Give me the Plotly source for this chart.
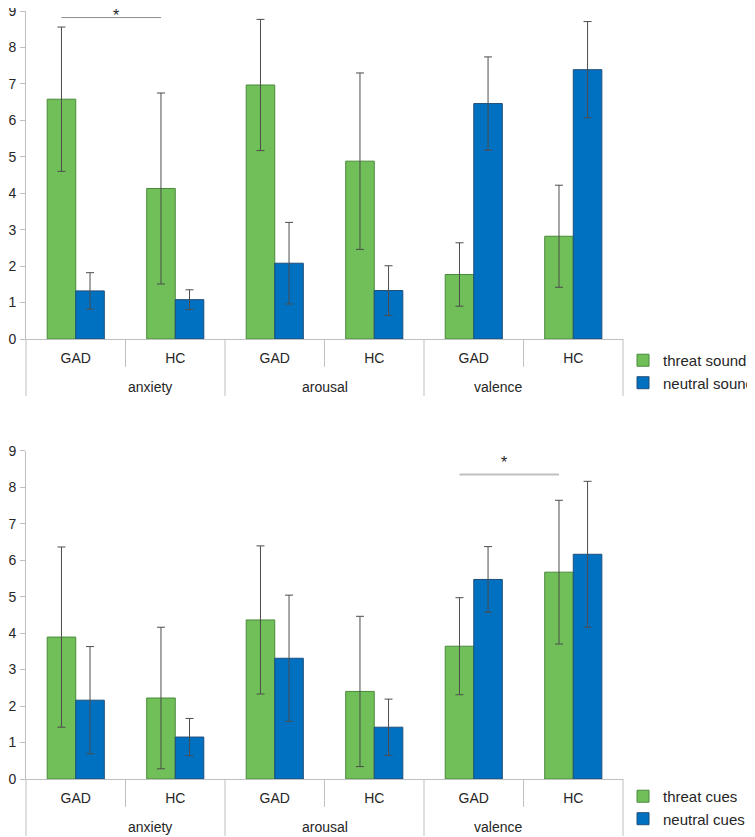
''' Ratings of threat vs neutral stimuli, GAD vs HC '''

import plotly.graph_objects as go
from plotly.subplots import make_subplots

## Data
measure_names = ["anxiety", "arousal", "valence"]
measures = ["anxiety", "anxiety", "arousal", "arousal", "valence", "valence"]
groups = ["GAD", "HC", "GAD", "HC", "GAD", "HC"]

threat_sound = [6.58, 4.13, 6.97, 4.88, 1.77, 2.82]
threat_sound_sd = [1.98, 2.62, 1.80, 2.42, 0.87, 1.40]
neutral_sound = [1.32, 1.08, 2.08, 1.33, 6.46, 7.39]
neutral_sound_sd = [0.50, 0.27, 1.12, 0.68, 1.28, 1.32]

threat_cues = [3.89, 2.22, 4.36, 2.40, 3.64, 5.67]
threat_cues_sd = [2.47, 1.94, 2.03, 2.06, 1.33, 1.97]
neutral_cues = [2.16, 1.15, 3.31, 1.42, 5.47, 6.16]
neutral_cues_sd = [1.47, 0.51, 1.73, 0.77, 0.90, 2.00]

# significance brackets: (panel, first bar index, second bar index, line height, star height)
brackets = [(1, 0, 1, 8.82, 8.6), (2, 4, 5, 8.35, 8.38)]

GREEN = "#70BF59"
GREEN_EDGE = "#4A8A3A"
BLUE = "#0070C0"
BLUE_EDGE = "#1F4E79"
GRID = "#BFBFBF"
TEXT = "#262626"
FONT = "Liberation Sans, Arial, Helvetica, sans-serif"
BARGAP = 0.426

fig = make_subplots(rows=2, cols=1, vertical_spacing=0.1454)

# one unique category per bar pair, labelled with the group only
cats = ["%s %s" % (m, g) for m, g in zip(measures, groups)]

def add_pair(row, green_vals, green_sd, blue_vals, blue_sd, names, legend):
    for vals, sd, color, edge, name in [
        (green_vals, green_sd, GREEN, GREEN_EDGE, names[0]),
        (blue_vals, blue_sd, BLUE, BLUE_EDGE, names[1]),
    ]:
        fig.add_trace(go.Bar(
            x=cats, y=vals, name=name, legend=legend,
            marker=dict(color=color, line=dict(color=edge, width=1)),
            error_y=dict(type="data", array=sd, color="#4D4D4D", thickness=1, width=4),
        ), row=row, col=1)

add_pair(1, threat_sound, threat_sound_sd, neutral_sound, neutral_sound_sd,
         ["threat sound", "neutral sound"], "legend")
add_pair(2, threat_cues, threat_cues_sd, neutral_cues, neutral_cues_sd,
         ["threat cues", "neutral cues"], "legend2")

# Axes
fig.update_yaxes(
    range=[0, 9], dtick=1, showgrid=False, zeroline=False, automargin=False,
    showline=True, linecolor=GRID, linewidth=1,
    ticks="outside", ticklen=5, tickcolor=GRID,
    tickfont=dict(size=14, color=TEXT), ticklabelstandoff=1,
    ticklabeloverflow="allow",
)
fig.update_xaxes(
    type="category", tickmode="array", tickvals=cats, ticktext=groups,
    showgrid=False, zeroline=False, automargin=False,
    showline=True, linecolor=GRID, linewidth=1, ticks="",
    tickfont=dict(size=14, color=TEXT), ticklabelstandoff=6,
)
fig.update_layout(yaxis=dict(domain=[0.5729, 1.0]), yaxis2=dict(domain=[0.0, 0.4275]))

shapes = []
annotations = []
for axis in ["", "2"]:
    # short separators between GAD and HC
    for i in [1, 3, 5]:
        shapes.append(dict(type="line", xref="x%s domain" % axis, yref="y%s domain" % axis,
                           x0=i / 6, x1=i / 6, y0=0, y1=-0.085,
                           line=dict(color=GRID, width=1)))
    # long dividers between measures
    for i in [0, 2, 4, 6]:
        shapes.append(dict(type="line", xref="x%s domain" % axis, yref="y%s domain" % axis,
                           x0=i / 6, x1=i / 6, y0=0, y1=-0.174,
                           line=dict(color=GRID, width=1)))
    # measure labels
    for k, name in enumerate(measure_names):
        annotations.append(dict(text=name, xref="x%s domain" % axis, yref="y%s domain" % axis,
                                x=(2 * k + 1) / 6, y=-0.146, yanchor="middle",
                                showarrow=False, font=dict(size=14, color=TEXT)))

# Significance brackets between the threat bars
offset = (1 - BARGAP) / 4
for row, a, b, h, hs in brackets:
    axis = "" if row == 1 else "2"
    xa = (a + 0.5 - offset) / 6
    xb = (b + 0.5 - offset) / 6
    shapes.append(dict(type="line", xref="x%s domain" % axis, yref="y%s" % axis,
                       x0=xa, x1=xb, y0=h, y1=h,
                       line=dict(color="#8C8C8C" if row == 1 else "#C0C0C0",
                                 width=1 if row == 1 else 2)))
    annotations.append(dict(text="*", xref="x%s domain" % axis, yref="y%s" % axis,
                            x=(xa + xb) / 2, y=hs, yanchor="bottom",
                            showarrow=False, font=dict(size=16, color=TEXT)))

fig.update_layout(
    width=755, height=837,
    margin=dict(l=18, r=130, t=3, b=66),
    plot_bgcolor="white", paper_bgcolor="white",
    font=dict(family=FONT, size=14, color=TEXT),
    barmode="group", bargap=BARGAP, bargroupgap=0,
    shapes=shapes, annotations=annotations,
    legend=dict(xref="container", yref="container", x=0.8146, xanchor="left",
                y=0.5986, yanchor="top",
                font=dict(size=15, color=TEXT), bgcolor="rgba(0,0,0,0)"),
    legend2=dict(xref="container", yref="container", x=0.8146, xanchor="left",
                 y=0.0777, yanchor="top",
                 font=dict(size=15, color=TEXT), bgcolor="rgba(0,0,0,0)"),
)

fig.write_html("out.html")
